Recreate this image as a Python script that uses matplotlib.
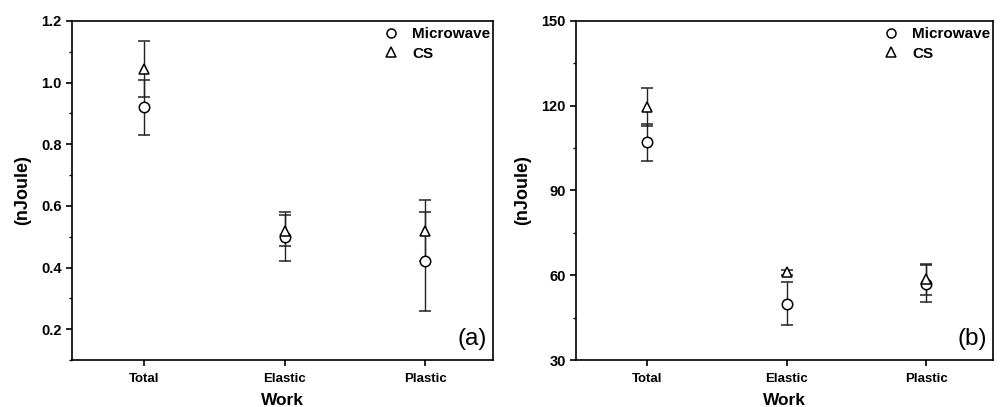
import matplotlib
matplotlib.use('Agg')
import matplotlib.pyplot as plt
from matplotlib.ticker import MultipleLocator
from matplotlib.lines import Line2D

plt.rcParams['font.family'] = ['Liberation Sans', 'DejaVu Sans']

categories = ["Total", "Elastic", "Plastic"]

# panel (a)
mw_a = [0.92, 0.50, 0.42]
mw_a_err = [0.09, 0.08, 0.16]
cs_a = [1.045, 0.52, 0.52]
cs_a_err = [0.09, 0.05, 0.10]

# panel (b)
mw_b = [107.0, 50.0, 57.0]
mw_b_err = [6.5, 7.5, 6.5]
cs_b = [119.5, 61.0, 58.5]
cs_b_err = [6.8, 1.0, 5.5]

fig = plt.figure(figsize=(10.03, 4.07), dpi=100)
ax_a = fig.add_axes([72 / 1003, 47 / 407, 421 / 1003, 339 / 407])
ax_b = fig.add_axes([576 / 1003, 47 / 407, 417 / 1003, 339 / 407])


def draw(ax, mw, mw_err, cs, cs_err, ylim, major, minor, tag):
    x = list(range(1, len(categories) + 1))
    for vals, errs, mk in [(mw, mw_err, 'o'), (cs, cs_err, '^')]:
        ax.errorbar(x, vals, yerr=errs, fmt=mk, ms=7.5, mfc='white', mec='black',
                    mew=1.1, ecolor='#222222', elinewidth=1.0, capsize=4,
                    capthick=1.0, zorder=3)
    ax.set_xlim(0.49, 3.48)
    ax.set_ylim(*ylim)
    ax.set_xticks(x)
    ax.set_xticklabels(categories, fontweight='bold', fontsize=9.5)
    ax.yaxis.set_major_locator(MultipleLocator(major))
    ax.yaxis.set_minor_locator(MultipleLocator(minor))
    ax.tick_params(axis='both', which='major', direction='out', length=4,
                   width=1.2, top=False, right=False)
    ax.tick_params(axis='x', which='major', pad=5)
    ax.tick_params(axis='y', which='major', labelsize=10.5)
    ax.tick_params(axis='y', which='minor', direction='out', length=2.5, width=1.0)
    ax.tick_params(axis='x', which='minor', bottom=False)
    for lab in ax.get_yticklabels():
        lab.set_fontweight('bold')
    for s in ax.spines.values():
        s.set_linewidth(1.2)
    ax.set_xlabel("Work", fontweight='bold', fontsize=12.5, labelpad=6)
    ax.set_ylabel("(nJoule)", fontweight='bold', fontsize=13, labelpad=7)
    handles = [
        Line2D([], [], marker='o', ls='none', ms=6.5, mfc='white', mec='black', mew=1.1),
        Line2D([], [], marker='^', ls='none', ms=6.5, mfc='white', mec='black', mew=1.1),
    ]
    ax.legend(handles, ["Microwave", "CS"], loc='upper right', frameon=False,
              bbox_to_anchor=(1.004, 0.995),
              prop={'weight': 'bold', 'size': 11}, handletextpad=0.6,
              handlelength=1.6, labelspacing=0.35, borderaxespad=0.0,
              borderpad=0.3)
    ax.text(0.985, 0.03, tag, transform=ax.transAxes, ha='right', va='bottom',
            fontsize=17.5)


draw(ax_a, mw_a, mw_a_err, cs_a, cs_a_err, (0.1, 1.2), 0.2, 0.1, "(a)")
draw(ax_b, mw_b, mw_b_err, cs_b, cs_b_err, (30, 150), 30, 15, "(b)")

fig.savefig("out.png", dpi=100)
